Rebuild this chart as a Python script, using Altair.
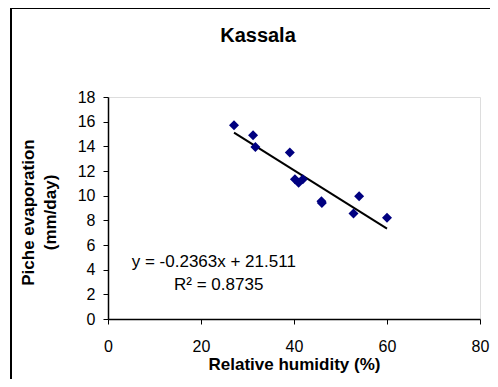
import altair as alt
import pandas as pd

humidity = [27.1, 31.2, 31.7, 39.1, 40.2, 41.0, 41.9, 45.9, 46.0, 52.8, 54.0, 60.0]
evaporation = [15.7, 14.9, 13.95, 13.5, 11.33, 11.04, 11.33, 9.55, 9.4, 8.56, 9.96, 8.2]
slope = -0.2363
intercept = 21.511
x_ticks = [0, 20, 40, 60, 80]
y_ticks = [0, 2, 4, 6, 8, 10, 12, 14, 16, 18]

df = pd.DataFrame({"x": humidity, "y": evaporation})
xmin, xmax = min(humidity), max(humidity)
trend = pd.DataFrame({"x": [xmin, xmax], "y": [slope * xmin + intercept, slope * xmax + intercept]})

FONT = "Liberation Sans"
W, H = 372, 222

xs = alt.Scale(domain=[0, 80], nice=False, zero=False)
ys = alt.Scale(domain=[0, 18], nice=False, zero=False)

xaxis = alt.Axis(values=x_ticks, title="Relative humidity (%)", grid=False, domainColor="black",
                 tickColor="black", tickSize=5, labelFont=FONT, labelFontSize=16, labelColor="black",
                 labelPadding=14, labelOverlap=False, labelFlush=False,
                 titleFont=FONT, titleFontSize=17, titleFontWeight="bold",
                 titleColor="black", titlePadding=2, domainWidth=1.5, tickWidth=1)
yaxis = alt.Axis(values=y_ticks, title=["Piche evaporation", "(mm/day)"], grid=False, domainColor="black",
                 tickColor="black", tickSize=5, labelFont=FONT, labelFontSize=16, labelColor="black",
                 labelPadding=8, labelOverlap=False, labelFlush=False,
                 titleFont=FONT, titleFontSize=17, titleFontWeight="bold",
                 titleColor="black", titlePadding=18, domainWidth=1.5, tickWidth=1, titleLineHeight=22,
                 titleY=115)

X = alt.X("x:Q", scale=xs, axis=xaxis)
Y = alt.Y("y:Q", scale=ys, axis=yaxis)

points = alt.Chart(df).mark_point(shape="diamond", filled=True, color="#000080", size=100, opacity=1).encode(
    x=X, y=Y)
line = alt.Chart(trend).mark_line(color="black", strokeWidth=2).encode(x=X, y=Y)
eq = alt.Chart(pd.DataFrame({"t": ["y = -0.2363x + 21.511"], "x": [5.1], "y": [4.64]})).mark_text(
    font=FONT, fontSize=17, align="left", color="black").encode(x=X, y=Y, text="t:N")
r2 = alt.Chart(pd.DataFrame({"t": ["R² = 0.8735"], "x": [14.2], "y": [2.75]})).mark_text(
    font=FONT, fontSize=17, align="left", color="black").encode(x=X, y=Y, text="t:N")
frame = alt.Chart(pd.DataFrame({"a": [0]})).mark_rect(fill=None, stroke="black", strokeWidth=2, clip=False).encode(
    x=alt.value(-97), x2=alt.value(420), y=alt.value(-89), y2=alt.value(300))
title = alt.Chart(pd.DataFrame({"t": ["Kassala"]})).mark_text(
    font=FONT, fontSize=20, fontWeight="bold", color="black", align="center", baseline="middle").encode(
    x=alt.value(150), y=alt.value(-61), text="t:N")

chart = alt.layer(frame, line, points, eq, r2, title).properties(
    width=W, height=H,
    padding={"left": 100, "top": 89, "right": 10, "bottom": 60},
    autosize=alt.AutoSizeParams(type="none"),
).configure_view(stroke=None).configure(background="white")

chart.save("out.html", embed_options={"renderer": "svg", "actions": False})
